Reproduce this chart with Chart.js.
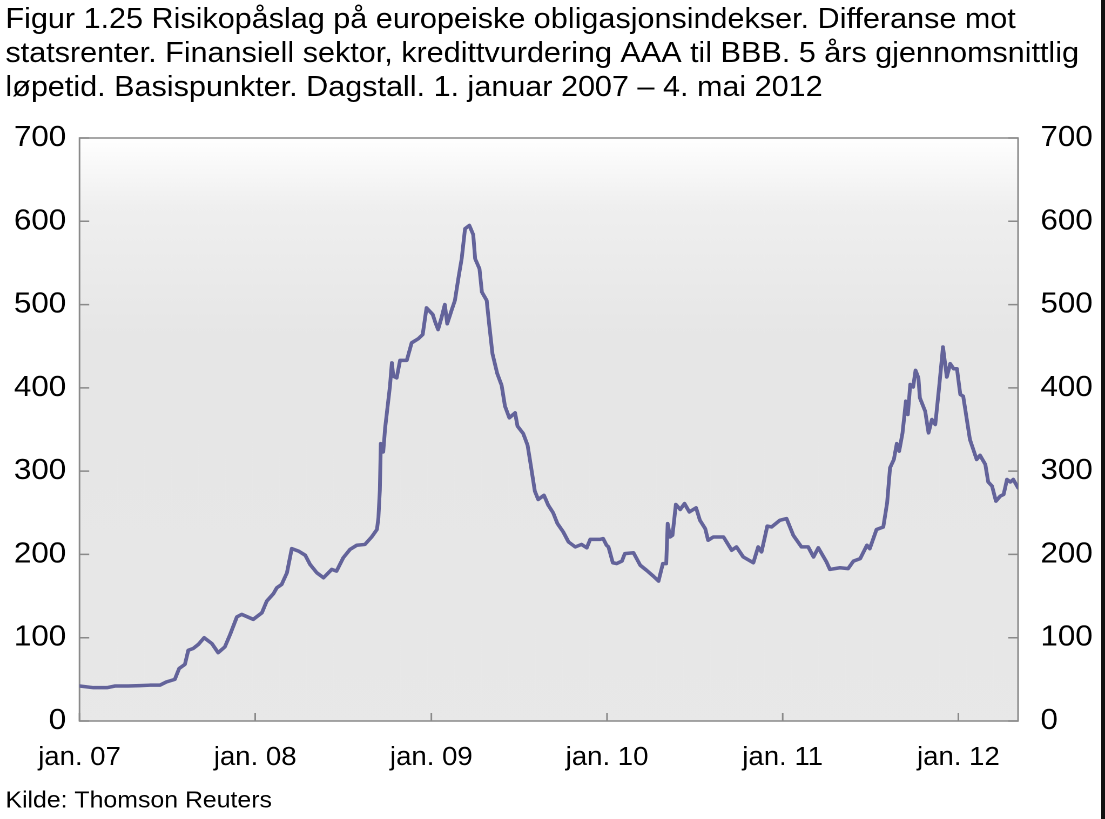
<!DOCTYPE html>
<html lang="no">
<head>
<meta charset="utf-8">
<title>Figur 1.25 Risikopåslag på europeiske obligasjonsindekser</title>
<script src="https://cdn.jsdelivr.net/npm/chart.js@4.4.1/dist/chart.umd.min.js"></script>
<style>
  html, body { margin: 0; padding: 0; background: #ffffff; overflow: hidden; }
  #wrap { position: absolute; left: 0; top: 0; width: 1023px; height: 819px;
          transform: scaleX(1.08016); transform-origin: 0 0; }
  #edge { position: absolute; top: 0; right: 0; width: 4px; height: 819px; background: #111; }
</style>
</head>
<body>
<div id="wrap"><canvas id="c" width="1023" height="819"></canvas></div>
<div id="edge"></div>
<script>
// ---- Data ----
// x: days since 1 January 2007; y: spread in basis points
const titleLines = [
  'Figur 1.25 Risikopåslag på europeiske obligasjonsindekser. Differanse mot',
  'statsrenter. Finansiell sektor, kredittvurdering AAA til BBB. 5 års gjennomsnittlig',
  'løpetid. Basispunkter. Dagstall. 1. januar 2007 – 4. mai 2012'
];
const sourceText = 'Kilde: Thomson Reuters';

const xTickDays = [0, 365, 731, 1096, 1461, 1826];
const xTickLabels = ['jan. 07', 'jan. 08', 'jan. 09', 'jan. 10', 'jan. 11', 'jan. 12'];
const yTicks = [0, 100, 200, 300, 400, 500, 600, 700];

const days = [
  0, 29, 57, 74, 101, 126, 146, 167, 181, 198,
  207, 219, 226, 236, 247, 259, 275, 288, 302, 313,
  327, 337, 361, 379, 389, 403, 410, 420, 431, 441,
  455, 469, 479, 493, 507, 524, 534, 548, 562, 576,
  593, 607, 618, 621, 624, 626, 631, 635, 645, 649,
  652, 659, 666, 680, 690, 704, 713, 721, 734, 739,
  745, 752, 759, 764, 773, 780, 787, 794, 801, 810,
  818, 822, 831, 836, 846, 851, 858, 868, 877, 884,
  893, 905, 910, 922, 931, 939, 946, 953, 965, 974,
  984, 993, 1005, 1016, 1030, 1043, 1054, 1061, 1081, 1088,
  1095, 1099, 1108, 1116, 1127, 1133, 1151, 1165, 1178, 1192,
  1203, 1212, 1219, 1222, 1227, 1232, 1239, 1248, 1257, 1267,
  1281, 1289, 1300, 1306, 1317, 1338, 1355, 1365, 1379, 1400,
  1410, 1417, 1429, 1438, 1455, 1469, 1483, 1500, 1514, 1525,
  1535, 1552, 1559, 1580, 1597, 1608, 1622, 1636, 1642, 1656,
  1670, 1678, 1684, 1692, 1698, 1703, 1710, 1717, 1721, 1726,
  1732, 1737, 1743, 1746, 1757, 1764, 1771, 1778, 1786, 1794,
  1802, 1809, 1816, 1823, 1830, 1836, 1850, 1864, 1871, 1882,
  1888, 1896, 1904, 1913, 1920, 1927, 1934, 1940, 1950
];
const spread = [
  42, 40, 40, 42, 42, 42.5, 43, 43, 47, 50,
  63, 68, 85, 87, 92, 100, 93, 82, 89, 104,
  125, 128, 122, 130, 144, 153, 160, 164, 178, 207,
  204, 199, 188, 178, 172, 182, 180, 196, 206, 211,
  212, 221, 230, 244, 277, 333, 323, 352, 402, 430,
  414, 412, 433, 433, 454, 459, 464, 496, 488, 479,
  470, 484, 500, 477, 493, 505, 531, 555, 591, 595,
  584, 555, 543, 515, 505, 477, 441, 417, 403, 378,
  364, 370, 354, 345, 331, 302, 276, 266, 271, 259,
  250, 237, 227, 215, 209, 212, 208, 218, 218, 219,
  211, 209, 190, 189, 192, 201, 202, 187, 181, 174,
  168, 189, 189, 237, 221, 223, 260, 254, 261, 251,
  256, 241, 231, 217, 221, 221, 205, 209, 197, 190,
  209, 203, 234, 233, 241, 243, 223, 209, 209, 197,
  208, 191, 182, 184, 183, 192, 195, 211, 207, 230,
  233, 262, 304, 314, 333, 324, 346, 384, 368, 404,
  401, 421, 412, 388, 372, 346, 362, 356, 401, 449,
  413, 429, 423, 423, 392, 390, 338, 314, 319, 308,
  287, 282, 264, 270, 272, 290, 287, 290, 280
];

// ---- Styles ----
const FONT = "'Liberation Sans', Arial, Helvetica, sans-serif";
const LINE_COLOR = '#63639a';
const FRAME_COLOR = '#8a8a8a';

const framePlugin = {
  id: 'frameAndInnerTicks',
  beforeDatasetsDraw(chart) {
    const { ctx, chartArea: a, scales } = chart;
    ctx.save();
    const g = ctx.createLinearGradient(0, a.top, 0, a.bottom);
    g.addColorStop(0, '#ffffff');
    g.addColorStop(0.12, '#efefef');
    g.addColorStop(0.35, '#e6e6e6');
    g.addColorStop(1, '#e8e8e8');
    ctx.fillStyle = g;
    ctx.fillRect(a.left, a.top, a.right - a.left, a.bottom - a.top);
    ctx.strokeStyle = FRAME_COLOR;
    ctx.lineWidth = 1.5;
    ctx.strokeRect(a.left, a.top, a.right - a.left, a.bottom - a.top);
    ctx.beginPath();
    scales.y.ticks.forEach(t => {
      const py = scales.y.getPixelForValue(t.value);
      ctx.moveTo(a.left, py); ctx.lineTo(a.left + 9, py);
      ctx.moveTo(a.right, py); ctx.lineTo(a.right - 9, py);
    });
    scales.x.ticks.forEach(t => {
      const px = scales.x.getPixelForValue(t.value);
      ctx.moveTo(px, a.bottom); ctx.lineTo(px, a.bottom - 8);
    });
    ctx.stroke();
    ctx.restore();
  }
};

const yAxisCommon = {
  min: 0, max: 700,
  grid: { display: false, drawTicks: false },
  border: { display: false },
  afterBuildTicks: s => { s.ticks = yTicks.map(v => ({ value: v })); }
};

new Chart(document.getElementById('c'), {
  type: 'line',
  data: {
    datasets: [{
      label: 'Risikopåslag',
      data: days.map((d, i) => ({ x: d, y: spread[i] })),
      borderColor: LINE_COLOR,
      borderWidth: 3.5,
      borderJoinStyle: 'round',
      borderCapStyle: 'round',
      pointRadius: 0,
      tension: 0,
      fill: false,
      yAxisID: 'y'
    }]
  },
  options: {
    responsive: false,
    animation: false,
    devicePixelRatio: 2,
    layout: { padding: { left: 5, right: 0, top: 0, bottom: 0 } },
    plugins: {
      legend: { display: false },
      tooltip: { enabled: false },
      title: {
        display: true,
        text: titleLines,
        align: 'start',
        color: '#000',
        font: { family: FONT, size: 28.3, weight: 'normal', lineHeight: 34 / 28.3 },
        padding: { top: 3.2, bottom: 32.8 }
      },
      subtitle: {
        display: true,
        position: 'bottom',
        text: sourceText,
        align: 'start',
        color: '#000',
        font: { family: FONT, size: 23, weight: 'normal', lineHeight: 1.2 },
        padding: { top: 0, bottom: 4.2 }
      }
    },
    scales: {
      x: {
        type: 'linear',
        position: 'bottom',
        min: 0, max: 1950,
        grid: { display: false, drawTicks: false },
        border: { display: false },
        afterBuildTicks: s => { s.ticks = xTickDays.map(v => ({ value: v })); },
        afterFit: s => { s.height = 66.2; },
        ticks: {
          autoSkip: false, maxRotation: 0, padding: 21.9, color: '#000',
          font: { family: FONT, size: 25.5 },
          callback: v => xTickLabels[xTickDays.indexOf(v)]
        }
      },
      y: Object.assign({}, yAxisCommon, {
        position: 'left',
        afterFit: s => { s.width = 68.6; },
        ticks: { padding: 12.4, color: '#000', font: { family: FONT, size: 29 } }
      }),
      y2: Object.assign({}, yAxisCommon, {
        position: 'right',
        afterFit: s => { s.width = 80.5; },
        ticks: { padding: 20.7, color: '#000', font: { family: FONT, size: 29 } }
      })
    }
  },
  plugins: [framePlugin]
});
</script>
</body>
</html>
